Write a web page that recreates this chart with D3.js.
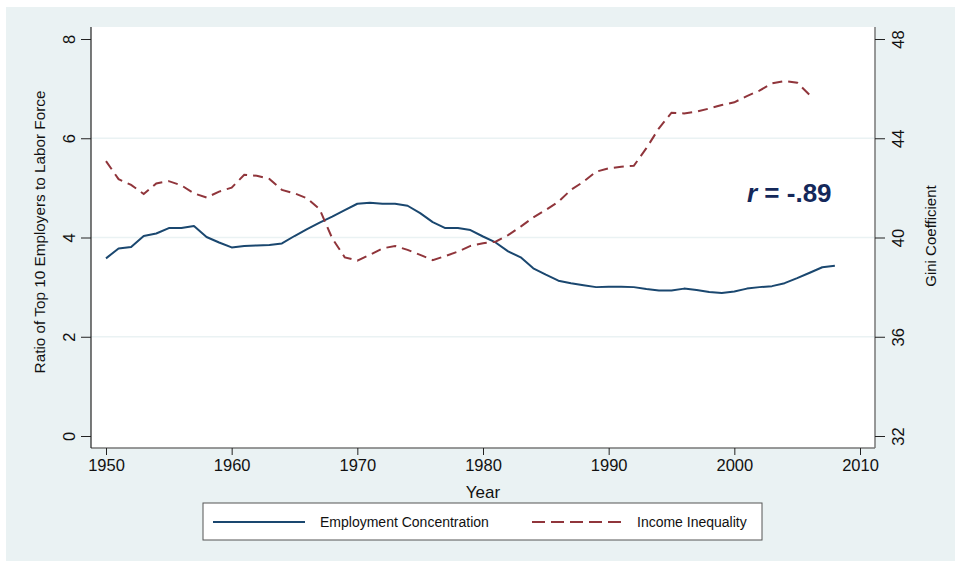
<!DOCTYPE html>
<html><head><meta charset="utf-8">
<script src="https://cdn.jsdelivr.net/npm/d3@7"></script>
<style>body{margin:0;background:#fff;} svg{display:block;font-family:"Liberation Sans",Arial,sans-serif;}</style>
</head><body>
<svg id="c" width="955" height="561"></svg>
<script>
const empYears = [1950,1951,1952,1953,1954,1955,1956,1957,1958,1959,1960,1961,1962,1963,1964,1965,1966,1967,1968,1969,1970,1971,1972,1973,1974,1975,1976,1977,1978,1979,1980,1981,1982,1983,1984,1985,1986,1987,1988,1989,1990,1991,1992,1993,1994,1995,1996,1997,1998,1999,2000,2001,2002,2003,2004,2005,2006,2007,2008];
const empValues = [3.58,3.78,3.81,4.03,4.08,4.19,4.19,4.23,4.01,3.90,3.80,3.83,3.84,3.85,3.88,4.03,4.17,4.30,4.42,4.55,4.68,4.70,4.68,4.68,4.64,4.49,4.31,4.19,4.19,4.15,4.02,3.90,3.72,3.60,3.38,3.25,3.13,3.08,3.04,3.00,3.01,3.01,3.00,2.96,2.93,2.93,2.97,2.94,2.90,2.88,2.91,2.97,3.00,3.02,3.08,3.18,3.29,3.40,3.43];
const giniYears = [1950,1951,1952,1953,1954,1955,1956,1957,1958,1959,1960,1961,1962,1963,1964,1965,1966,1967,1968,1969,1970,1971,1972,1973,1974,1975,1976,1977,1978,1979,1980,1981,1982,1983,1984,1985,1986,1987,1988,1989,1990,1991,1992,1993,1994,1995,1996,1997,1998,1999,2000,2001,2002,2003,2004,2005,2006];
const giniValues = [43.08,42.35,42.12,41.75,42.18,42.27,42.10,41.78,41.61,41.85,42.01,42.53,42.49,42.36,41.92,41.78,41.58,41.14,39.97,39.20,39.07,39.30,39.56,39.66,39.50,39.30,39.09,39.25,39.43,39.66,39.77,39.83,40.10,40.44,40.81,41.11,41.44,41.92,42.25,42.65,42.79,42.85,42.89,43.60,44.40,45.03,45.00,45.07,45.20,45.34,45.45,45.70,45.92,46.21,46.31,46.24,45.74];
const xTicks = [1950,1960,1970,1980,1990,2000,2010];
const leftTicks = [0,2,4,6,8];
const rightTicks = [32,36,40,44,48];
const labels = {x:"Year", left:"Ratio of Top 10 Employers to Labor Force", right:"Gini Coefficient",
  s1:"Employment Concentration", s2:"Income Inequality"};

const svg = d3.select("#c");
const bg = "#eaf2f3", blue = "#1a476f", red = "#90353b";
const FF = "Liberation Sans, Arial, sans-serif";
svg.append("rect").attr("x",6).attr("y",7).attr("width",949).attr("height",554).attr("fill",bg);
const L=91, R=875, T=27, B=448;
svg.append("rect").attr("x",L).attr("y",T).attr("width",R-L).attr("height",B-T).attr("fill","#fff");

const x = d3.scaleLinear().domain([1950,2010]).range([106,860]);
const yL = d3.scaleLinear().domain([0,8]).range([436,39]);
const yR = d3.scaleLinear().domain([32,48]).range([436,39]);

// gridlines
svg.append("g").selectAll("line").data([2,4,6]).join("line")
  .attr("x1",L).attr("x2",R).attr("y1",d=>yL(d)).attr("y2",d=>yL(d))
  .attr("stroke",bg).attr("stroke-width",1.5);

// axes
const ax = svg.append("g").attr("transform",`translate(0,${B})`)
  .call(d3.axisBottom(x).tickValues(xTicks).tickFormat(d3.format("d")).tickSize(7).tickSizeOuter(0));
ax.select(".domain").attr("d",`M${L},0H${R}`).attr("stroke","#777").attr("stroke-width",1.5);
ax.selectAll(".tick line").attr("stroke","#222");
ax.selectAll(".tick text").attr("font-size",16.5).attr("fill","#111").attr("y",11).attr("font-family",FF);

const al = svg.append("g").attr("transform",`translate(${L},0)`)
  .call(d3.axisLeft(yL).tickValues(leftTicks).tickSize(10).tickSizeOuter(0));
al.select(".domain").attr("d",`M0,${T}V${B}`).attr("stroke","#222").attr("stroke-width",1.2);
al.selectAll(".tick line").attr("stroke","#222");
al.selectAll(".tick text").attr("font-size",16.5).attr("fill","#111").attr("font-family",FF)
  .attr("x",0).attr("dy",0).attr("text-anchor","middle")
  .attr("transform","translate(-16,0) rotate(-90)");

const ar = svg.append("g").attr("transform",`translate(${R},0)`)
  .call(d3.axisRight(yR).tickValues(rightTicks).tickSize(10).tickSizeOuter(0));
ar.select(".domain").attr("d",`M0,${T}V${B}`).attr("stroke","#777").attr("stroke-width",1.5);
ar.selectAll(".tick line").attr("stroke","#222");
ar.selectAll(".tick text").attr("font-size",16.5).attr("fill","#111").attr("font-family",FF)
  .attr("x",0).attr("dy",0).attr("text-anchor","middle")
  .attr("transform","translate(29,0) rotate(-90)");

// axis titles
svg.append("text").attr("x",483).attr("y",498).attr("text-anchor","middle").attr("font-size",17).attr("fill","#111").text(labels.x);
svg.append("text").attr("transform","translate(45,232) rotate(-90)").attr("text-anchor","middle").attr("font-size",15.3).attr("fill","#111").text(labels.left);
svg.append("text").attr("transform","translate(936,236) rotate(-90)").attr("text-anchor","middle").attr("font-size",15).attr("fill","#111").text(labels.right);

// lines
const empData = empYears.map((yr,i)=>[yr,empValues[i]]);
const giniData = giniYears.map((yr,i)=>[yr,giniValues[i]]);
svg.append("path").datum(empData).attr("fill","none").attr("stroke",blue).attr("stroke-width",2)
  .attr("stroke-linejoin","round").attr("d",d3.line().x(d=>x(d[0])).y(d=>yL(d[1])));
svg.append("path").datum(giniData).attr("fill","none").attr("stroke",red).attr("stroke-width",2)
  .attr("stroke-dasharray","10,6").attr("d",d3.line().x(d=>x(d[0])).y(d=>yR(d[1])));

// annotation
const ann = svg.append("text").attr("x",747).attr("y",202).attr("font-size",26).attr("font-weight","bold").attr("fill","#14285a");
ann.append("tspan").attr("font-style","italic").text("r");
ann.append("tspan").text(" = -.89");

// legend
svg.append("rect").attr("x",203).attr("y",503).attr("width",559).attr("height",37).attr("fill","#fff").attr("stroke","#555").attr("stroke-width",1);
svg.append("line").attr("x1",213).attr("x2",305).attr("y1",522).attr("y2",522).attr("stroke",blue).attr("stroke-width",2);
svg.append("text").attr("x",320).attr("y",527).attr("font-size",14).attr("fill","#111").text(labels.s1);
svg.append("line").attr("x1",532).attr("x2",623).attr("y1",522).attr("y2",522).attr("stroke",red).attr("stroke-width",2).attr("stroke-dasharray","13,6");
svg.append("text").attr("x",637).attr("y",527).attr("font-size",14).attr("fill","#111").text(labels.s2);
</script>
</body></html>
